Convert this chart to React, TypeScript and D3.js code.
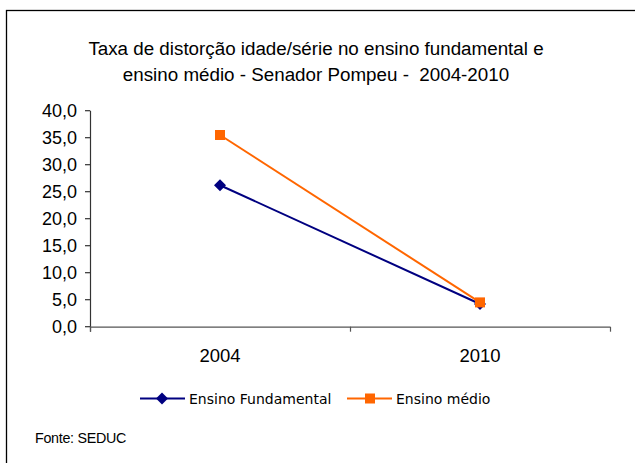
import React from "react";
import * as d3 from "d3";

const titleLines = [
  "Taxa de distorção idade/série no ensino fundamental e",
  "ensino médio - Senador Pompeu -  2004-2010",
];
const categories = ["2004", "2010"];
const fundamental = [26.2, 4.2];
const medio = [35.5, 4.5];
const yTicks = [0, 5, 10, 15, 20, 25, 30, 35, 40];
const seriesNames = ["Ensino Fundamental", "Ensino médio"];
const source = "Fonte: SEDUC";

const W = 635;
const H = 463;
const plot = { left: 90, right: 610, top: 110.7, bottom: 326.7 };
const BLUE = "#000080";
const ORANGE = "#FF6600";

export default function App() {
  const x = d3.scaleBand<string>().domain(categories).range([plot.left, plot.right]);
  const y = d3.scaleLinear().domain([0, 40]).range([plot.bottom, plot.top]);
  const cx = (c: string) => (x(c) ?? 0) + x.bandwidth() / 2;
  const line = d3
    .line<number>()
    .x((_, i) => cx(categories[i]))
    .y((d) => y(d));
  const fmt = (v: number) => v.toFixed(1).replace(".", ",");
  const catTicks = [plot.left, ...categories.map((c) => (x(c) ?? 0) + x.bandwidth())];

  const diamond = (px: number, py: number, r = 6) =>
    `M${px},${py - r}L${px + r},${py}L${px},${py + r}L${px - r},${py}Z`;

  return (
    <svg
      width={W}
      height={H}
      style={{ position: "absolute", left: 0, top: 0, background: "#fff" }}
    >
      <rect x={0} y={0} width={W} height={H} fill="#fff" />
      <rect x={6.5} y={10.5} width={W + 10} height={H + 10} fill="none" stroke="#000" strokeWidth={1.3} />
      {titleLines.map((t, i) => (
        <text
          key={i}
          x={316}
          y={55 + i * 26}
          textAnchor="middle"
          fontFamily="'Liberation Sans', Arial, sans-serif"
          fontSize={18.8}
          fill="#000"
          style={{ whiteSpace: "pre" }}
        >
          {t}
        </text>
      ))}
      {/* y axis */}
      <line x1={plot.left + 0.5} x2={plot.left + 0.5} y1={plot.top} y2={plot.bottom + 5} stroke="#333" strokeWidth={1.2} />
      {yTicks.map((t) => (
        <g key={t}>
          <line x1={plot.left - 5} x2={plot.left} y1={y(t)} y2={y(t)} stroke="#333" strokeWidth={1.2} />
          <text
            x={77}
            y={y(t) + 6.5}
            textAnchor="end"
            fontFamily="'Liberation Sans', Arial, sans-serif"
            fontSize={18}
            fill="#000"
          >
            {fmt(t)}
          </text>
        </g>
      ))}
      {/* x axis */}
      <line x1={plot.left} x2={plot.right} y1={plot.bottom + 0.5} y2={plot.bottom + 0.5} stroke="#555" strokeWidth={1.2} />
      {catTicks.map((tx, i) => (
        <line key={i} x1={tx + 0.5} x2={tx + 0.5} y1={plot.bottom} y2={plot.bottom + 5} stroke="#555" strokeWidth={1.2} />
      ))}
      {categories.map((c) => (
        <text
          key={c}
          x={cx(c)}
          y={361.5}
          textAnchor="middle"
          fontFamily="'Liberation Sans', Arial, sans-serif"
          fontSize={18.5}
          fill="#000"
        >
          {c}
        </text>
      ))}
      {/* series */}
      <path d={line(fundamental) ?? ""} fill="none" stroke={BLUE} strokeWidth={2} />
      {fundamental.map((v, i) => (
        <path key={i} d={diamond(cx(categories[i]), y(v))} fill={BLUE} />
      ))}
      <path d={line(medio) ?? ""} fill="none" stroke={ORANGE} strokeWidth={2} />
      {medio.map((v, i) => (
        <rect key={i} x={cx(categories[i]) - 5} y={y(v) - 5} width={10} height={10} fill={ORANGE} />
      ))}
      {/* legend */}
      <g>
        <line x1={140} x2={185} y1={398.5} y2={398.5} stroke={BLUE} strokeWidth={2} />
        <path d={diamond(162, 398.5, 6)} fill={BLUE} />
        <text x={189} y={404} fontFamily="'DejaVu Sans', Verdana, sans-serif" fontSize={14} fill="#000">
          {seriesNames[0]}
        </text>
        <line x1={347} x2={392} y1={398.5} y2={398.5} stroke={ORANGE} strokeWidth={2} />
        <rect x={365} y={393.5} width={10} height={10} fill={ORANGE} />
        <text x={396} y={404} fontFamily="'DejaVu Sans', Verdana, sans-serif" fontSize={14} fill="#000">
          {seriesNames[1]}
        </text>
      </g>
      <text x={35} y={443} fontFamily="'Liberation Sans', Arial, sans-serif" fontSize={14.3} letterSpacing={-0.3} fill="#000">
        {source}
      </text>
    </svg>
  );
}
